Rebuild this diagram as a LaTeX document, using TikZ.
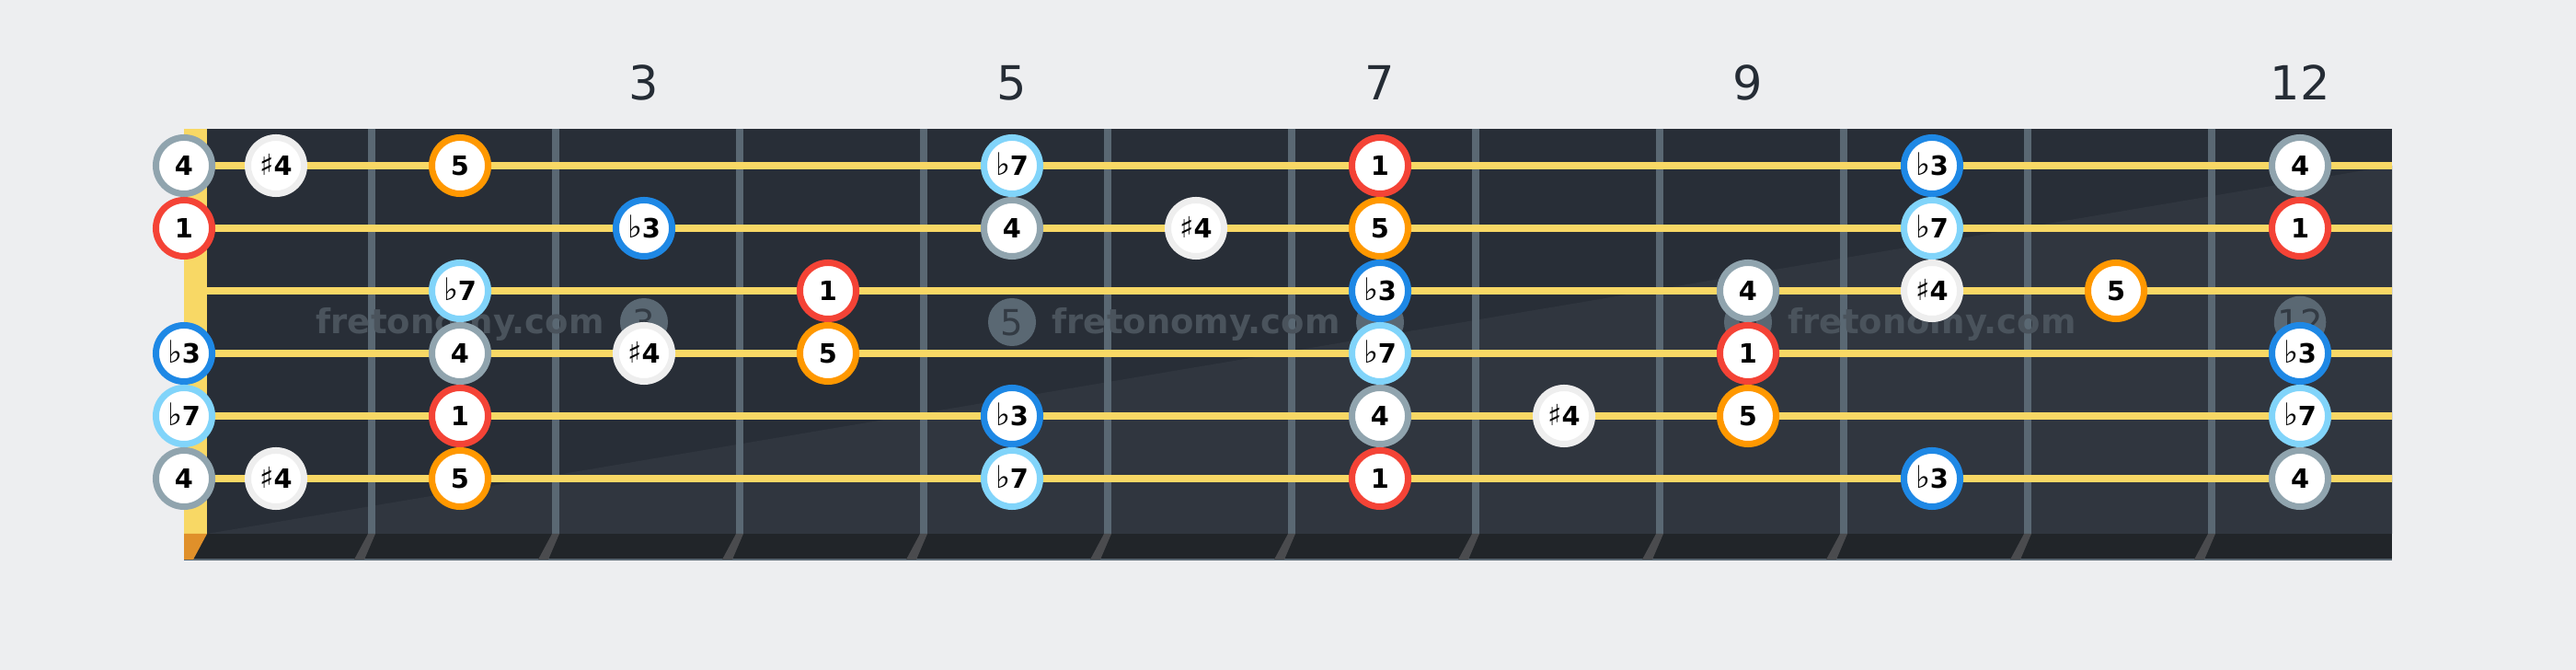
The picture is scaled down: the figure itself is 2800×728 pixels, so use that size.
\documentclass[tikz,border=0pt]{standalone}
\usepackage{fontspec}
\setmainfont{DejaVu Sans}

\definecolor{pagebg}{HTML}{EDEEF0}
\definecolor{boarddark}{HTML}{282E37}
\definecolor{boardlight}{HTML}{30363F}
\definecolor{boardedge}{HTML}{212529}
\definecolor{fretgrey}{HTML}{5A6873}
\definecolor{fretshade}{HTML}{4A4B4E}
\definecolor{stringgold}{HTML}{F8D865}
\definecolor{nutorange}{HTML}{E0902A}
\definecolor{labelink}{HTML}{252C35}
\definecolor{markink}{HTML}{4A535C}
\definecolor{markdigit}{HTML}{333B44}
\definecolor{ringred}{HTML}{F44336}
\definecolor{ringorange}{HTML}{FF9800}
\definecolor{ringblue}{HTML}{1E88E5}
\definecolor{ringsky}{HTML}{81D4FA}
\definecolor{ringgrey}{HTML}{90A4AE}
\definecolor{ringwhite}{HTML}{EEEEEE}

\newcommand{\mflat}{{\mdseries\fontsize{9.6}{10}\selectfont ♭}}
\newcommand{\msharp}{{\mdseries\fontsize{9}{10}\selectfont ♯}}

\tikzset{
    note/.style={
        circle,
        fill=white,
        draw=#1,
        line width=0.07cm,
        minimum size=0.61cm,
        inner sep=0pt,
        text height=6pt,
        text depth=0pt,
        font=\fontsize{8.2}{9}\selectfont\bfseries
    },
    tonic/.style={note=ringred},
    minthird/.style={note=ringblue},
    fourth/.style={note=ringgrey},
    sharpfour/.style={note=ringwhite},
    fifth/.style={note=ringorange},
    minseventh/.style={note=ringsky}
}

\begin{document}
\begin{tikzpicture}[
    x=0.01cm,
    y=-0.01cm,
    fretnum/.style={
        text=labelink,
        inner sep=0pt,
        text height=10.6pt,
        text depth=0pt,
        font=\fontsize{14.5}{16}\selectfont
    },
    markdot/.style={
        circle,
        fill=fretgrey,
        minimum size=0.52cm,
        inner sep=0pt,
        text=markdigit,
        text height=8pt,
        text depth=0pt,
        font=\fontsize{11}{12}\selectfont
    },
    watermark/.style={
        anchor=base west,
        inner sep=0pt,
        text=markink,
        font=\fontsize{10.5}{12}\selectfont\bfseries
    },
    fretwire/.style={
        draw=fretgrey,
        line width=0.08cm
    },
    guitarstring/.style={
        draw=stringgold,
        line width=0.08cm
    }
]

% page and fretboard
\fill[pagebg] (0,0) rectangle (2800,728);
\fill[boarddark] (225,140) rectangle (2600,580);
\fill[boardlight] (225,580) -- (2600,580) -- (2600,180) -- cycle;
\fill[boardedge] (200,580) rectangle (2600,608);
\draw[fretgrey, line width=0.02cm] (200,608) -- (2600,608);

% nut
\fill[stringgold] (200,140) rectangle (225,580);
\fill[nutorange] (200,580) -- (225,580) -- (210,608) -- (200,608) -- cycle;

% frets
\foreach \i in {1,...,11} {
    \draw[fretwire] (204+200*\i,140) -- (204+200*\i,580);
    \fill[fretshade] (200+200*\i,580) -- (208+200*\i,580) -- (196+200*\i,608) -- (185+200*\i,608) -- cycle;
}

% watermark
\node[markdot] (dot3) at (700,350) {3};
\node[markdot] (dot5) at (1100,350) {5};
\node[markdot] (dot7) at (1500,350) {7};
\node[markdot] (dot9) at (1900,350) {9};
\node[markdot] (dot12) at (2500,350) {12};
\node[watermark] (wm1) at (343,363) {fretonomy.com};
\node[watermark] (wm2) at (1143,363) {fretonomy.com};
\node[watermark] (wm3) at (1943,363) {fretonomy.com};

% strings
\foreach \s in {0,...,5} {
    \draw[guitarstring] (225,180+68*\s) -- (2600,180+68*\s);
}

% fret numbers
\node[fretnum] (num3) at (700,90) {3};
\node[fretnum] (num5) at (1100,90) {5};
\node[fretnum] (num7) at (1500,90) {7};
\node[fretnum] (num9) at (1900,90) {9};
\node[fretnum] (num12) at (2500,90) {12};

% string 1
\node[fourth] (s1f0) at (200,180) {4};
\node[sharpfour] (s1f1) at (300,180) {\msharp4};
\node[fifth] (s1f2) at (500,180) {5};
\node[minseventh] (s1f5) at (1100,180) {\mflat7};
\node[tonic] (s1f7) at (1500,180) {1};
\node[minthird] (s1f10) at (2100,180) {\mflat3};
\node[fourth] (s1f12) at (2500,180) {4};

% string 2
\node[tonic] (s2f0) at (200,248) {1};
\node[minthird] (s2f3) at (700,248) {\mflat3};
\node[fourth] (s2f5) at (1100,248) {4};
\node[sharpfour] (s2f6) at (1300,248) {\msharp4};
\node[fifth] (s2f7) at (1500,248) {5};
\node[minseventh] (s2f10) at (2100,248) {\mflat7};
\node[tonic] (s2f12) at (2500,248) {1};

% string 3
\node[minseventh] (s3f2) at (500,316) {\mflat7};
\node[tonic] (s3f4) at (900,316) {1};
\node[minthird] (s3f7) at (1500,316) {\mflat3};
\node[fourth] (s3f9) at (1900,316) {4};
\node[sharpfour] (s3f10) at (2100,316) {\msharp4};
\node[fifth] (s3f11) at (2300,316) {5};

% string 4
\node[minthird] (s4f0) at (200,384) {\mflat3};
\node[fourth] (s4f2) at (500,384) {4};
\node[sharpfour] (s4f3) at (700,384) {\msharp4};
\node[fifth] (s4f4) at (900,384) {5};
\node[minseventh] (s4f7) at (1500,384) {\mflat7};
\node[tonic] (s4f9) at (1900,384) {1};
\node[minthird] (s4f12) at (2500,384) {\mflat3};

% string 5
\node[minseventh] (s5f0) at (200,452) {\mflat7};
\node[tonic] (s5f2) at (500,452) {1};
\node[minthird] (s5f5) at (1100,452) {\mflat3};
\node[fourth] (s5f7) at (1500,452) {4};
\node[sharpfour] (s5f8) at (1700,452) {\msharp4};
\node[fifth] (s5f9) at (1900,452) {5};
\node[minseventh] (s5f12) at (2500,452) {\mflat7};

% string 6
\node[fourth] (s6f0) at (200,520) {4};
\node[sharpfour] (s6f1) at (300,520) {\msharp4};
\node[fifth] (s6f2) at (500,520) {5};
\node[minseventh] (s6f5) at (1100,520) {\mflat7};
\node[tonic] (s6f7) at (1500,520) {1};
\node[minthird] (s6f10) at (2100,520) {\mflat3};
\node[fourth] (s6f12) at (2500,520) {4};

\end{tikzpicture}
\end{document}
